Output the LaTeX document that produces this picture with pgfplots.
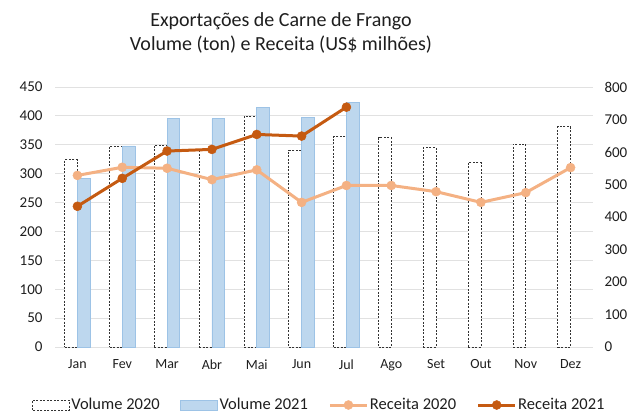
\documentclass[border=0pt]{standalone}
\usepackage{pgfplots}
\pgfplotsset{compat=1.18}
\usepackage{fontspec}
\setmainfont{Carlito}
\definecolor{vol21}{RGB}{189,215,238}
\definecolor{vol21edge}{RGB}{157,195,230}
\definecolor{rec20}{RGB}{244,177,131}
\definecolor{rec21}{RGB}{197,90,17}
\definecolor{gridc}{RGB}{225,225,225}
\definecolor{txt}{RGB}{30,30,30}
\pgfplotstableread{
x vol20 vol21 rec20 rec21
0 324 292 528 433
1 348 348 553 519
2 349 395 550 603
3 342 395 515 608
4 399 414 545 654
5 341 397 445 649
6 364 423 497 738
7 362 nan 497 nan
8 345 nan 478 nan
9 319 nan 445 nan
10 351 nan 475 nan
11 381 nan 552 nan
}\data
\begin{document}
\begin{tikzpicture}[x=1bp,y=1bp]
\path[use as bounding box] (0,0) rectangle (636,414);
\node[font=\fontsize{20bp}{24.5bp}\selectfont, text=txt, align=center] at (281,381) {Exportações de Carne de Frango\\Volume (ton) e Receita (US\$ milhões)};
\begin{axis}[
  at={(55bp,67bp)}, anchor=south west,
  width=538bp, height=260bp, scale only axis,
  xmin=-0.5, xmax=11.5, ymin=0, ymax=450,
  ytick={0,50,...,450},
  xtick={0,...,11},
  xticklabels={Jan,Fev,Mar,Abr,Mai,Jun,Jul,Ago,Set,Out,Nov,Dez},
  axis x line*=bottom, axis y line*=left,
  x axis line style={draw=gridc, line width=1bp, -},
  y axis line style={draw=none},
  major tick length=0pt,
  ymajorgrids, grid style={draw=gridc, line width=0.8bp},
  yticklabel style={font=\fontsize{15bp}{18bp}\selectfont, text=txt},
  xticklabel style={font=\fontsize{14bp}{16bp}\selectfont, text=txt},
  /pgf/number format/assume math mode=true,
  ytick style={draw=none}, xtick style={draw=none},
  yticklabel shift=9bp, xticklabel shift=9bp,
  ybar, bar width=12.7bp,
  clip=false,
]
\addplot[bar shift=-6.35bp, draw=black!80, fill=white, line width=0.8bp, dash pattern=on 2bp off 1.5bp] table[x=x,y=vol20] {\data};
\addplot[bar shift=6.35bp, draw=vol21edge, fill=vol21, line width=0.8bp] table[x=x,y=vol21] {\data};
\end{axis}
\begin{axis}[
  at={(55bp,67bp)}, anchor=south west,
  width=538bp, height=260bp, scale only axis,
  xmin=-0.5, xmax=11.5, ymin=0, ymax=800,
  ytick={0,100,...,800},
  axis y line*=right, axis x line=none,
  y axis line style={draw=none},
  major tick length=0pt, ytick style={draw=none},
  yticklabel style={font=\fontsize{15bp}{18bp}\selectfont, text=txt},
  /pgf/number format/assume math mode=true,
  yticklabel shift=8bp,
  clip=false,
  legend columns=4,
  legend image code/.code={\draw[mark repeat=2,mark phase=2,#1] plot coordinates {(0bp,0bp) (18.5bp,0bp) (37bp,0bp)};},
  legend style={at={(0.4907,-0.2231)}, anchor=center, draw=none, fill=none,
    font=\fontsize{16.5bp}{18bp}\selectfont, text=txt,
    /tikz/every even column/.append style={column sep=19bp},
    nodes={inner sep=1.5bp}},
]
\addlegendimage{legend image code/.code={\draw[draw=black!80, fill=white, line width=0.8bp, dash pattern=on 2bp off 1.5bp] (0bp,-5bp) rectangle (37bp,5bp);}}
\addlegendentry{Volume 2020}
\addlegendimage{legend image code/.code={\draw[draw=vol21edge, fill=vol21, line width=0.8bp] (0bp,-5bp) rectangle (37bp,5bp);}}
\addlegendentry{Volume 2021}
\addplot[color=rec20, line width=3bp, mark=*, mark size=4.5bp, mark options={fill=rec20, draw=rec20, line width=0.5bp}]
  table[x=x,y=rec20] {\data};
\addlegendentry{Receita 2020}
\addplot[color=rec21, line width=3bp, mark=*, mark size=4.5bp, mark options={fill=rec21, draw=rec21, line width=0.5bp}]
  table[x=x,y=rec21] {\data};
\addlegendentry{Receita 2021}
\end{axis}
\end{tikzpicture}
\end{document}
